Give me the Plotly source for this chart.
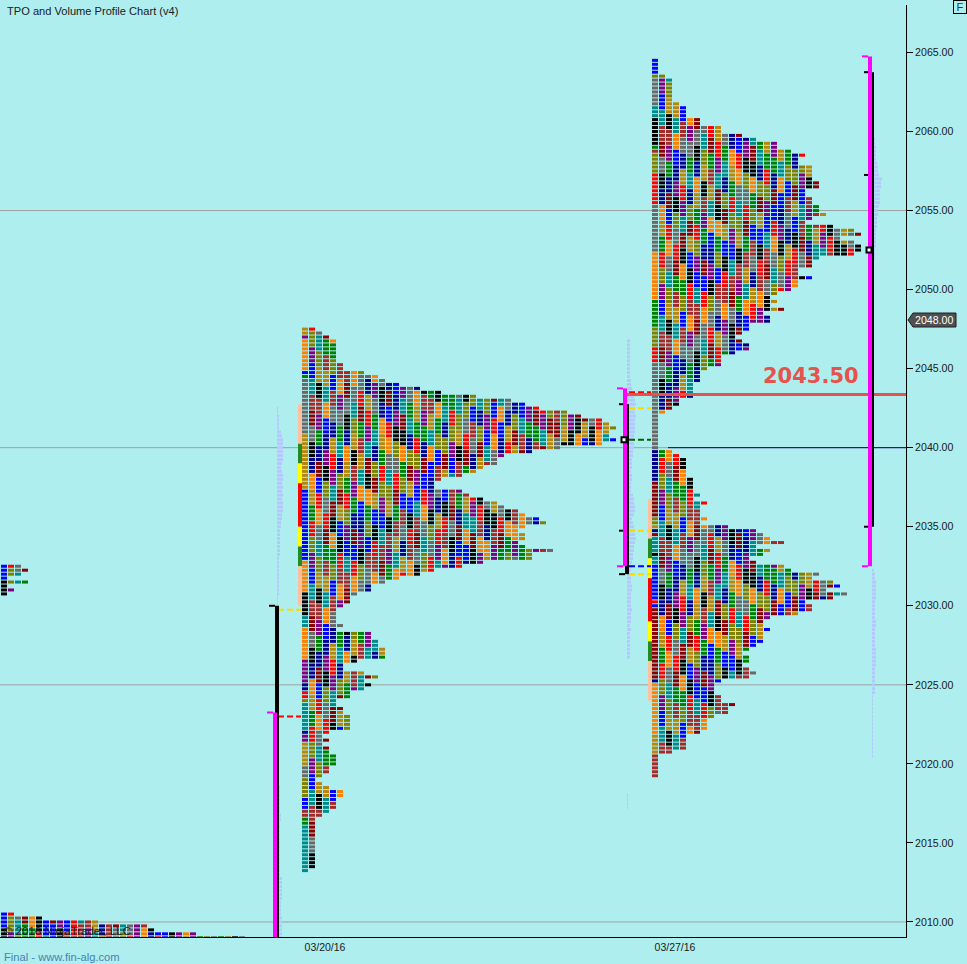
import plotly.graph_objects as go

# tick size and chart scale
TICK = 0.25
CELL_W = 6
CELL_PITCH = 7
ROW_H = 0.19

# TPO counts per price row, top row first
p3_top = 2064.5
p3_counts = [1,1,1,1,2,3,3,3,3,3,3,4,5,5,5,7,7,10,10,13,15,18,18,20,22,21,21,23,23,23,23,24,24,22,22,23,23,24,24,25,
             23,22,26,29,30,27,29,30,30,29,24,23,23,21,21,23,21,21,20,18,17,18,17,19,16,17,17,14,14,13,12,13,14,14,12,
             10,10,10,8,7,7,7,6,6,6,6,4,4,3,2,1,1,1,1,1,1,1,1,1,3,4,5,5,5,5,5,6,6,6,6,7,6,
             8,7,7,7,8,7,11,15,16,17,19,15,17,16,14,15,19,20,24,23,26,27,25,28,26,22,23,23,21,17,16,16,17,16,16,16,15,14,
             13,14,14,13,14,15,14,10,9,9,9,10,10,12,11,11,9,8,8,8,7,5,5,5,5,3,1,1,1,1,1,1]
p3_first_col = [('blue',4),('olive',1),('gray',7),('teal',3),('black',7),('green',1),('brown',1),('olive',5),('red',8),
                ('gray',12),('orange',12),('green',7),('olive',5),('red',4),('gray',22),('navy',8),('maroon',9),('olive',2),
                ('gold',1),('navy',1),('maroon',1),('teal',4),('black',1),('teal',2),('blue',9),('red',1),('blue',1),
                ('maroon',18),('navy',1),('orange',13),('gold',5),('brown',6)]

p2_top = 2047.5
p2_counts = [2,3,4,5,5,5,5,5,5,6,6,9,11,12,14,17,
             20,25,30,32,34,38,40,43,44,45,44,44,45,43,37,33,29,28,28,26,25,23,20,19,19,23,24,26,28,29,31,32,34,35,32,31,
             32,32,31,32,36,33,33,26,23,19,
             17,14,12,10,10,8,7,7,6,5,5,5,5,6,5,10,10,11,11,12,12,12,8,6,6,9,11,9,10,9,
             7,7,5,5,6,6,7,7,7,7,4,3,4,3,4,4,5,5,5,4,4,3,2,3,4,6,6,5,5,5,4,3,2,2,2,2,2,2,2,2,2,2,2,2,2,1]
p2_first_col = [('gold',2),('purple',1),('orange',8),('blue',1),('green',1),('gray',14),('gold',14),('blue',18),('orange',8),
                ('black',6),('teal',3),('orange',8),('purple',6),('navy',2),('red',2),('olive',1),('teal',7),('navy',1),
                ('purple',2),('gold',6),('gray',3),('olive',5),('blue',3),('brown',2),('green',2),('teal',12)]

p1_top = 2010.5
p1_counts = [2,6,14,21,22,28,35]

p0_top = 2032.5
p0_counts = [3,4,3,1,4,1,2,1]

# left edge of each profile on the bar axis
p3_x = 652
p2_x = 302
p1_x = 1
p0_x = 1

palette = {'blue':'#0000ff','green':'#008000','black':'#000000','teal':'#008b8b','red':'#ff0000','navy':'#00008b',
           'brown':'#a52a2a','olive':'#808000','orange':'#ff8000','maroon':'#8b0000','purple':'#800080',
           'gold':'#b8860b','gray':'#696969'}
palette_names = list(palette.keys())

# volume profiles, widths per row
vol1_top = 2042.5
vol1_w = [1,1,2,2,2,2,4,5,6,6,6,6,6,6,5,4,5,6,6,5,6,5,6,5,6,6,6,5,5,4,4,3,3,3,3,3,3,3,2,2,2,2,2,2,2,2,2,2,1,1,1,1,1]
vol1_low_top = 2018.5
vol1_low_w = [3,3,3,3,3,3,3,4,4,3,3,3,3,3,3,3,3,3,3,3,3,3,3,5,5,5,5,5,5,4,4,4,4,5,5,5,5,5,5]
vol2_top = 2046.75
vol2_w = [3,3,3,3,3,3,3,3,3,3,4,4,5,6,7,8,9,8,8,9,8,8,8,8,7,7,7,7,6,6,5,5,5,4,5,5,4,4,4,6,7,7,8,8,7,
          5,6,7,8,8,9,8,7,7,6,6,5,5,4,3,4,4,5,5,4,4,4,4,5,4,4,4,3,4,3,3,3,3,3,3,3]
vol2_low_top = 2018.0
vol2_low_w = [1,1,1,1]
vol3_top = 2060.0
vol3_w = [2,2,3,3,4,4,4,4,5,6,6,7,10,9,9,8,8,8,8,7,6,6,5,5,5,4,4,4,4,4,3,3,3,2,2,2,2]
vol3_low_top = 2032.25
vol3_low_w = [2,3,3,4,4,4,4,4,3,3,3,3,3,4,4,3,3,3,3,3,4,4,4,4,4,3,3,3,3,3,3,3,1,1,1,1,1,1,1,1,1,1,1,1,1,1,1,1]

# session strips at the left of the profiles
strip2_x = 298
strip2_levels = [2042.75,2040.25,2039.0,2037.75,2035.0,2033.75,2032.5,2030.0]
strip3_x = 648
strip3_levels = [2036.75,2034.25,2033.0,2031.75,2029.0,2027.75,2026.5,2024.0]
strip_colours = ['#ffc0a0','#228b22','#ffff00','#ff0000','#ffff00','#228b22','#ffc0a0']

# value area (magenta) and range (black) per session
bar_x = [273,623,868]
va_high = [2023.25,2043.75,2064.75]
va_low = [2009.0,2032.5,2032.5]
range_high = [2030.0,2042.75,2063.75]
range_low = [2009.0,2032.0,2035.0]
range_mid = [None,2034.75,2057.25]
poc = [None,2040.5,2052.5]

# dashed level lines
dash_x0 = [278,278,629,629,629,629,629,629]
dash_x1 = [301,301,651,651,651,651,651,651]
dash_y = [2029.75,2023.0,2043.5,2042.5,2040.5,2034.75,2032.5,2032.0]
dash_col = ['#ffd700','#ff0000','#ff0000','#ffd700','#006400','#ffd700','#0000ff','#ffd700']

grid_levels = [2055,2040,2025,2010]
yticks = [2010,2015,2020,2025,2030,2035,2040,2045,2050,2055,2060,2065]
date_pos = [325,675]
date_labels = ['03/20/16','03/27/16']
last_price = 2048.0
level_price = 2043.37
level_label = '2043.50'
open_level = 2040.0

FONT = 'Liberation Sans'
BG = '#afeeee'


def cell_colour(row, col, first_col):
    if col == 0 and first_col:
        pos = 0
        for name, n in first_col:
            pos += n
            if row < pos:
                return palette[name]
    # colour of a period holds for a few rows, each column steps differently
    k = (row + 3 * col) // 4
    idx = (4 * col + k * (col % 5 + 2)) % len(palette_names)
    return palette[palette_names[idx]]


def profile_trace(top, counts, x0, first_col=None):
    ys, bases, cols = [], [], []
    for row, n in enumerate(counts):
        for col in range(n):
            ys.append(top - row * TICK)
            bases.append(x0 + col * CELL_PITCH)
            cols.append(cell_colour(row, col, first_col))
    return go.Bar(y=ys, x=[CELL_W] * len(ys), base=bases, orientation='h', width=ROW_H,
                  marker=dict(color=cols, line=dict(width=0)), showlegend=False, hoverinfo='skip')


def volume_trace(top, widths, x0):
    ys = [top - i * TICK for i in range(len(widths))]
    return go.Bar(y=ys, x=widths, base=[x0] * len(ys), orientation='h', width=ROW_H,
                  marker=dict(color='#b4c8ff', line=dict(width=0)), showlegend=False, hoverinfo='skip')


fig = go.Figure()

fig.add_trace(volume_trace(vol1_top, vol1_w, 277))
fig.add_trace(volume_trace(vol1_low_top, vol1_low_w, 277))
fig.add_trace(volume_trace(vol2_top, vol2_w, 627))
fig.add_trace(volume_trace(vol2_low_top, vol2_low_w, 627))
fig.add_trace(volume_trace(vol3_top, vol3_w, 872))
fig.add_trace(volume_trace(vol3_low_top, vol3_low_w, 872))

fig.add_trace(profile_trace(p0_top, p0_counts, p0_x))
fig.add_trace(profile_trace(p1_top, p1_counts, p1_x))
fig.add_trace(profile_trace(p2_top, p2_counts, p2_x, p2_first_col))
fig.add_trace(profile_trace(p3_top, p3_counts, p3_x, p3_first_col))

for lvl in grid_levels:
    fig.add_shape(type='line', x0=0, x1=906, y0=lvl, y1=lvl, layer='below', line=dict(color='#a0a0a0', width=1))

for x, levels in ((strip2_x, strip2_levels), (strip3_x, strip3_levels)):
    for i, c in enumerate(strip_colours):
        fig.add_shape(type='rect', x0=x, x1=x + 4, y0=levels[i], y1=levels[i + 1], fillcolor=c, line=dict(width=0))

for x0, x1, y, c in zip(dash_x0, dash_x1, dash_y, dash_col):
    fig.add_shape(type='line', x0=x0, x1=x1, y0=y, y1=y, line=dict(color=c, width=2, dash='6px,3px'))

fig.add_shape(type='line', x0=668, x1=906, y0=open_level, y1=open_level, line=dict(color='#000080', width=1))
fig.add_shape(type='line', x0=624, x1=906, y0=level_price, y1=level_price, line=dict(color='#e8524d', width=3))

for i, x in enumerate(bar_x):
    fig.add_shape(type='rect', x0=x + 2, x1=x + 6, y0=range_low[i], y1=range_high[i], fillcolor='black', line=dict(width=0))
    for lvl in (range_high[i], range_low[i], range_mid[i]):
        if lvl is not None and lvl > 2009.5:
            fig.add_shape(type='line', x0=x - 4, x1=x + 2, y0=lvl, y1=lvl, line=dict(color='black', width=2))
    fig.add_shape(type='rect', x0=x, x1=x + 4, y0=va_low[i], y1=va_high[i], fillcolor='#ff00ff', line=dict(width=0))
    for lvl in (va_high[i], va_low[i]):
        if lvl > 2009.5:
            fig.add_shape(type='line', x0=x - 6, x1=x, y0=lvl, y1=lvl, line=dict(color='#ff00ff', width=2))
    if poc[i] is not None:
        fig.add_shape(type='rect', x0=x - 1.5, x1=x + 3.5, y0=poc[i] - 0.16, y1=poc[i] + 0.16,
                      fillcolor='white', line=dict(color='black', width=2))

# price tag of the last trade, outside the plot area
tag = 'M {:.4f} {:.4f} L {:.4f} {:.4f} L {:.4f} {:.4f} L {:.4f} {:.4f} L {:.4f} {:.4f} Z'.format(
    908 / 906, (937 - 320) / 932, 913 / 906, (937 - 313) / 932, 956 / 906, (937 - 313) / 932,
    956 / 906, (937 - 327) / 932, 913 / 906, (937 - 327) / 932)
fig.add_shape(type='path', xref='paper', yref='paper', path=tag, fillcolor='#505050', line=dict(color='#202020', width=1))

fig.add_annotation(xref='paper', yref='paper', x=934 / 906, y=(937 - 320) / 932, xanchor='center', yanchor='middle',
                   text='{:.2f}'.format(last_price), showarrow=False, font=dict(family=FONT, size=10.6, color='white'))
fig.add_annotation(xref='paper', yref='paper', x=959.5 / 906, y=(937 - 7.5) / 932, xanchor='center', yanchor='middle',
                   text='F', showarrow=False, width=12, height=12, borderwidth=1, bordercolor='black', borderpad=0,
                   font=dict(family=FONT, size=11, color='#203080'))
fig.add_annotation(x=811, y=2044.55, text='<b>' + level_label + '</b>', showarrow=False,
                   font=dict(family='DejaVu Sans', size=21, color='#e8524d'))
fig.add_annotation(xref='paper', yref='paper', x=4.5 / 906, y=1, yshift=-6, xanchor='left', yanchor='middle',
                   text='TPO and Volume Profile Chart (v4)', showarrow=False, font=dict(family=FONT, size=11.1, color='#202020'))
fig.add_annotation(x=1.5, y=2009.4, xanchor='left', text='© 2016 NinjaTrader, LLC', showarrow=False,
                   font=dict(family=FONT, size=11.5, color='#202020'))
fig.add_annotation(xref='paper', yref='paper', x=1.5 / 906, y=0, yshift=-20, xanchor='left', yanchor='middle',
                   text='Final - www.fin-alg.com', showarrow=False, font=dict(family=FONT, size=11.2, color='#4682b4'))

fig.update_layout(
    width=967, height=964,
    margin=dict(l=0, r=61, t=5, b=27),
    paper_bgcolor=BG, plot_bgcolor=BG,
    barmode='overlay', showlegend=False,
    font=dict(family=FONT, size=11, color='#202020'),
    xaxis=dict(range=[0, 906], showgrid=False, zeroline=False, showline=True, linecolor='black', linewidth=1,
               tickmode='array', tickvals=date_pos, ticktext=date_labels, ticks='', tickfont=dict(size=10.5)),
    yaxis=dict(range=[2009.05, 2068.0], side='right', showgrid=False, zeroline=False, showline=True, linecolor='black',
               linewidth=1, tickmode='array', tickvals=yticks, ticktext=['{:.2f}'.format(v) for v in yticks],
               ticks='outside', ticklen=6, tickcolor='black', tickfont=dict(size=10.6)),
)

fig.write_html('out.html', config=dict(displayModeBar=False), post_script="document.body.style.margin='0';")
